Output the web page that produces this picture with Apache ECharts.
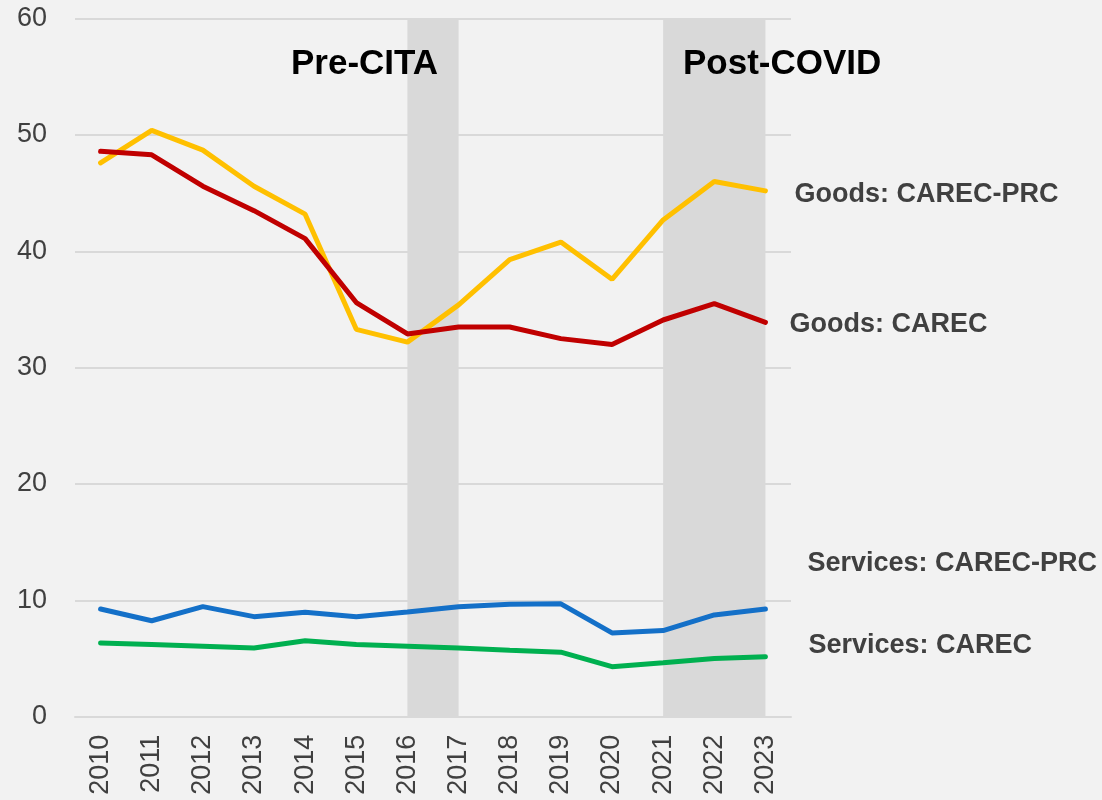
<!DOCTYPE html>
<html>
  <head>
    <meta charset="utf-8">
    <title>Goods and services trade shares</title>
    <script src="https://cdn.jsdelivr.net/npm/echarts@6/dist/echarts.min.js"></script>
    <style>
      html, body { margin: 0; padding: 0; background: #f2f2f2; }
      #main { width: 1102px; height: 800px; }
    </style>
  </head>
  <body>
    <div id="main"></div>
    <script>
      // data
      const years = ['2010','2011','2012','2013','2014','2015','2016','2017','2018','2019','2020','2021','2022','2023'];
      const goodsCarecPrc    = [47.6, 50.4, 48.7, 45.6, 43.2, 33.3, 32.2, 35.4, 39.3, 40.8, 37.6, 42.7, 46.0, 45.2];
      const goodsCarec       = [48.6, 48.3, 45.6, 43.5, 41.1, 35.6, 32.9, 33.5, 33.5, 32.5, 32.0, 34.1, 35.5, 33.9];
      const servicesCarecPrc = [9.26, 8.25, 9.46, 8.6, 8.98, 8.6, 9.0, 9.46, 9.66, 9.7, 7.2, 7.4, 8.75, 9.26];
      const servicesCarec    = [6.34, 6.2, 6.05, 5.9, 6.53, 6.2, 6.05, 5.9, 5.72, 5.55, 4.3, 4.64, 5.0, 5.16];
      const periods = [['2016', '2017'], ['2021', '2023']];
      const periodNames = ['Pre-CITA', 'Post-COVID'];

      const font = 'Liberation Sans, Arial, sans-serif';
      const chart = echarts.init(document.getElementById('main'));

      function lineSeries(name, data, color, labelOffset) {
        return {
          name: name,
          type: 'line',
          data: data,
          symbol: 'none',
          lineStyle: { width: 5, color: color, cap: 'round' },
          itemStyle: { color: color },
          endLabel: {
            show: true,
            formatter: name,
            distance: 0,
            offset: labelOffset,
            fontFamily: font,
            fontSize: 27,
            fontWeight: 'bold',
            color: '#404040'
          },
          animation: false
        };
      }

      const series = [
        lineSeries('Goods: CAREC-PRC', goodsCarecPrc, '#ffc000', [29, 4]),
        lineSeries('Goods: CAREC', goodsCarec, '#c00000', [24, 2]),
        lineSeries('Services: CAREC-PRC', servicesCarecPrc, '#1470c8', [42, -45]),
        lineSeries('Services: CAREC', servicesCarec, '#00b050', [43, -11])
      ];
      // shaded periods behind the lines
      series.unshift({
        type: 'line',
        data: [],
        silent: true,
        markArea: {
          silent: true,
          itemStyle: { color: '#d9d9d9' },
          data: periods.map(p => [{ xAxis: p[0] }, { xAxis: p[1] }])
        },
        z: 1
      });

      chart.setOption({
        backgroundColor: '#f2f2f2',
        animation: false,
        grid: { left: 75, right: 311, top: 18.7, bottom: 83.3, containLabel: false },
        xAxis: {
          type: 'category',
          data: years,
          boundaryGap: true,
          axisLine: { show: true, lineStyle: { color: '#d9d9d9', width: 2 } },
          axisTick: { show: false },
          axisLabel: {
            rotate: 90,
            margin: 18,
            fontFamily: font,
            fontSize: 27,
            color: '#404040'
          }
        },
        yAxis: {
          type: 'value',
          min: 0,
          max: 60,
          interval: 10,
          axisLine: { show: false },
          axisTick: { show: false },
          splitLine: { lineStyle: { color: '#d9d9d9', width: 2 } },
          axisLabel: {
            margin: 28,
            fontFamily: font,
            fontSize: 27,
            color: '#404040'
          }
        },
        graphic: [
          {
            type: 'text', left: 291, top: 47, z: 100,
            style: { text: periodNames[0], font: 'bold 35px ' + font, fill: '#000' }
          },
          {
            type: 'text', left: 683, top: 47, z: 100,
            style: { text: periodNames[1], font: 'bold 35px ' + font, fill: '#000' }
          }
        ],
        series: series
      });
    </script>
  </body>
</html>
